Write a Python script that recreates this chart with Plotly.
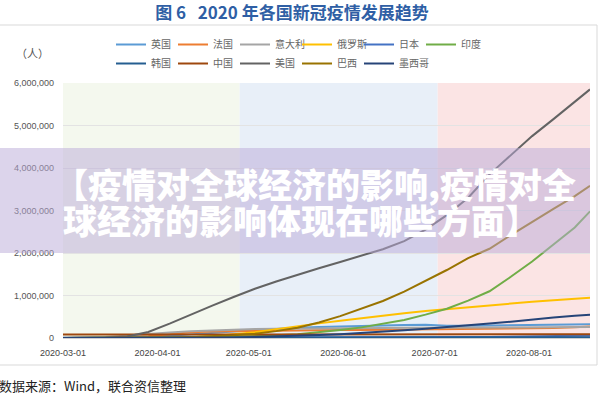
import plotly.graph_objects as go

dates = ["2020-03-01", "2020-03-08", "2020-03-15", "2020-03-22", "2020-03-29",
         "2020-04-05", "2020-04-12", "2020-04-19", "2020-04-26", "2020-05-03",
         "2020-05-10", "2020-05-17", "2020-05-24", "2020-05-31", "2020-06-07",
         "2020-06-14", "2020-06-21", "2020-06-28", "2020-07-05", "2020-07-12",
         "2020-07-19", "2020-07-26", "2020-08-02", "2020-08-09", "2020-08-16",
         "2020-08-21"]

uk = [36, 273, 1391, 5683, 19522, 48440, 84279, 120067, 152840, 182260, 215260, 243695, 259559,
      274762, 284868, 295889, 304331, 311151, 285416, 289603, 294792, 299500, 304695, 311641,
      318484, 323313]
france = [130, 1126, 5423, 16243, 40174, 92839, 132591, 152894, 161488, 168396, 176658, 179630,
          182469, 188882, 191102, 194153, 197885, 199476, 204222, 208015, 211102, 216394, 225043,
          233126, 252170, 270000]
italy = [1694, 7375, 24747, 59138, 97689, 128948, 156363, 178972, 197675, 210717, 219070, 225435,
         229858, 232997, 234998, 236989, 238499, 240310, 241819, 242827, 244216, 246118, 248070,
         250566, 253915, 257065]
russia = [2, 17, 63, 367, 1500, 5400, 15800, 42800, 87000, 134000, 209000, 282000, 344000, 405000,
          468000, 529000, 584000, 634000, 680000, 727000, 771000, 813000, 854000, 890000, 925000,
          950000]
japan = [256, 502, 839, 1101, 1866, 3654, 7255, 10797, 13441, 15057, 15798, 16285, 16581, 16930,
         17251, 17588, 18110, 18723, 19775, 21868, 25096, 30230, 38128, 46804, 54714, 60000]
india = [3, 40, 110, 400, 1000, 3600, 9000, 17000, 27000, 40000, 63000, 91000, 138000, 190000,
         250000, 330000, 425000, 550000, 690000, 880000, 1100000, 1440000, 1800000, 2200000,
         2600000, 2980000]
korea = [3736, 7313, 8162, 8897, 9583, 10237, 10512, 10661, 10738, 10793, 10874, 11050, 11206,
         11503, 11814, 12121, 12421, 12757, 13091, 13417, 13745, 14150, 14389, 14660, 15515, 16670]
china = [79968, 80735, 81003, 81498, 82122, 82642, 83134, 83805, 83912, 83964, 84010, 84054, 84095,
         84128, 84186, 84335, 84553, 84757, 84857, 85071, 85314, 86570, 88122, 88872, 89428, 89661]
usa = [70, 500, 3500, 33000, 140000, 337000, 555000, 760000, 965000, 1160000, 1330000, 1490000,
       1640000, 1790000, 1940000, 2090000, 2280000, 2550000, 2890000, 3300000, 3850000, 4300000,
       4750000, 5150000, 5550000, 5850000]
brazil = [2, 20, 200, 1600, 4300, 11000, 22000, 38000, 62000, 101000, 162000, 241000, 363000,
          515000, 690000, 870000, 1090000, 1350000, 1600000, 1880000, 2100000, 2420000, 2740000,
          3040000, 3340000, 3580000]
mexico = [5, 7, 41, 316, 993, 2143, 4661, 8261, 14677, 23471, 35022, 49219, 68620, 90664, 117103,
          142690, 180545, 216852, 252165, 299750, 338913, 385036, 439046, 480278, 522162, 549000]

names = ["英国", "法国", "意大利", "俄罗斯", "日本", "印度",
         "韩国", "中国", "美国", "巴西", "墨西哥"]
series = [uk, france, italy, russia, japan, india, korea, china, usa, brazil, mexico]
colors = ["#5B9BD5", "#ED7D31", "#A5A5A5", "#FFC000", "#4472C4", "#70AD47",
          "#255E91", "#9E480E", "#636363", "#997300", "#264478"]

y_ticks = [0, 1000000, 2000000, 3000000, 4000000, 5000000, 6000000]
x_ticks = ["2020-03-01", "2020-04-01", "2020-05-01", "2020-06-01", "2020-07-01", "2020-08-01"]
bands = [("2020-03-01", "2020-04-28", "#f4f8ee"),
         ("2020-04-28", "2020-07-02", "#e8eff8"),
         ("2020-07-02", "2020-08-21", "#fbe4e4")]

W, H = 600, 400
L, R, T, B = 63, 10, 83, 62
PW, PH = W - L - R, H - T - B


def px(x):
    return (x - L) / PW


def py(y):
    return (H - B - y) / PH


fig = go.Figure()
for i, (n, s, c) in enumerate(zip(names, series, colors)):
    col = i % 6
    leg = "legend" if col == 0 else f"legend{col + 1}"
    fig.add_trace(go.Scatter(x=dates, y=s, name=n, mode="lines",
                             line=dict(color=c, width=2), legend=leg))

shapes = []
for x0, x1, col in bands:
    shapes.append(dict(type="rect", xref="x", yref="paper", x0=x0, x1=x1, y0=0, y1=1,
                       fillcolor=col, line_width=0, layer="below"))
shapes.append(dict(type="rect", xref="paper", yref="paper", x0=px(-3), x1=px(597),
                   y0=py(365), y1=py(25), line=dict(color="#d9d9d9", width=1),
                   fillcolor="rgba(0,0,0,0)", layer="below"))
shapes.append(dict(type="rect", xref="paper", yref="paper", x0=px(-5), x1=px(590),
                   y0=py(253), y1=py(148), fillcolor="rgba(185,170,215,0.5)",
                   line_width=0, layer="above"))

legfont = dict(family="Noto Sans CJK SC", size=10, color="#666666")
legends = {}
for col in range(6):
    key = "legend" if col == 0 else f"legend{col + 1}"
    legends[key] = dict(orientation="v", xref="container", yref="container",
                        xanchor="left", yanchor="top", x=(111 + 62 * col) / W,
                        y=1 - 30 / H, font=legfont, bgcolor="rgba(0,0,0,0)",
                        traceorder="normal", tracegroupgap=0, itemwidth=30)

annos = [
    dict(text="（人）", x=px(32), y=py(53), xref="paper", yref="paper", showarrow=False,
         xanchor="center", yanchor="middle",
         font=dict(family="Noto Sans CJK SC", size=11, color="#555555")),
    dict(text="【疫情对全球经济的影响,疫情对全", x=px(315), y=py(183), xref="paper",
         yref="paper", showarrow=False, xanchor="center", yanchor="middle",
         font=dict(family="Noto Sans CJK SC", size=34, color="white", weight=900)),
    dict(text="球经济的影响体现在哪些方面】", x=px(301), y=py(219), xref="paper",
         yref="paper", showarrow=False, xanchor="center", yanchor="middle",
         font=dict(family="Noto Sans CJK SC", size=34, color="white", weight=900)),
    dict(text="数据来源：Wind，联合资信整理", x=px(-3), y=py(385), xref="paper", yref="paper",
         xanchor="left", yanchor="middle", showarrow=False,
         font=dict(family="Noto Sans CJK SC", size=13, color="#222222")),
]

fig.update_layout(
    width=W, height=H, autosize=False,
    margin=dict(l=L, r=R, t=T, b=B, autoexpand=False),
    paper_bgcolor="white", plot_bgcolor="white",
    title=dict(text="图 6   2020 年各国新冠疫情发展趋势", x=292 / W, xref="container",
               xanchor="center", y=1 - 13 / H, yref="container", yanchor="middle",
               font=dict(family="Noto Sans CJK SC", size=17, color="#2f5fa5", weight="bold")),
    shapes=shapes,
    annotations=annos,
    xaxis=dict(type="date", range=["2020-03-01", "2020-08-21"], tickvals=x_ticks,
               ticktext=x_ticks, showgrid=False, zeroline=False, showline=False,
               ticks="", ticklabelstandoff=8,
               tickfont=dict(family="Liberation Sans", size=9, color="#444444")),
    yaxis=dict(range=[0, 6000000], tickvals=y_ticks, tickformat=",d",
               showgrid=True, gridcolor="#e3e3e3", gridwidth=1, zeroline=True,
               zerolinecolor="#cfcfcf", showline=False, ticks="", ticklabelstandoff=8,
               tickfont=dict(family="Liberation Sans", size=9, color="#555555")),
    showlegend=True,
    **legends,
)

fig.write_html("out.html")
